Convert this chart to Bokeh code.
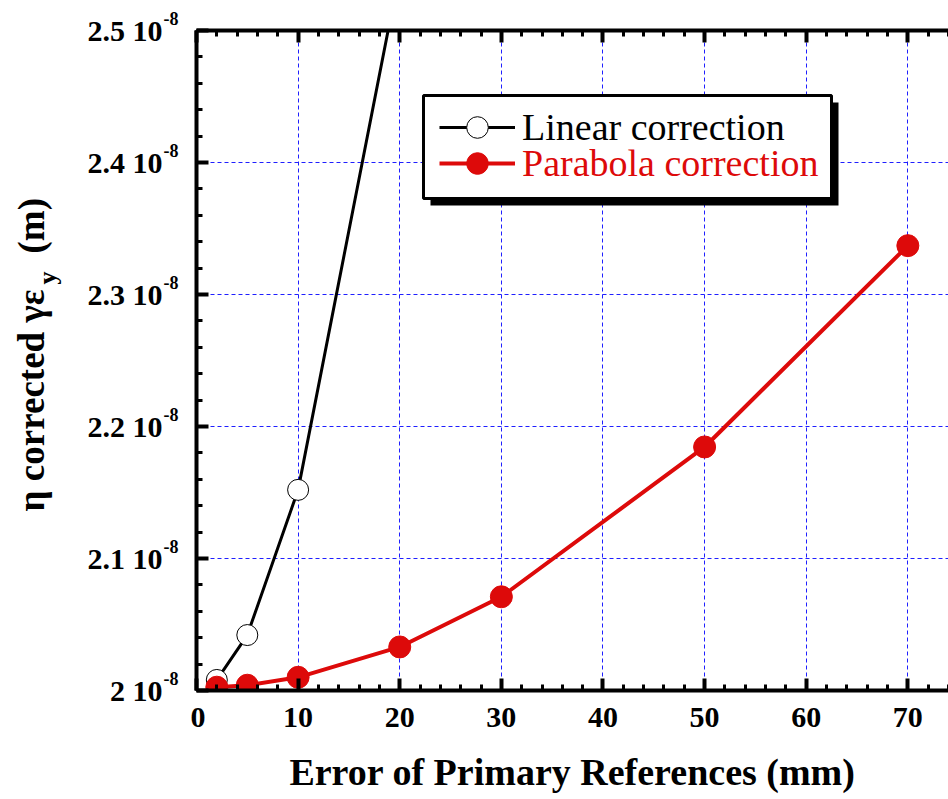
import math
from bokeh.plotting import figure
from bokeh.layouts import row
from bokeh.models import (LinearAxis, FixedTicker, CustomJSTickFormatter,
                          BoxAnnotation, Legend, LegendItem, Range1d)
from bokeh.core.properties import value
from bokeh.embed import file_html
from bokeh.resources import INLINE

# ---------------- data ----------------
error_linear_mm = [2, 5, 10, 20]
emit_linear_m = [2.008e-8, 2.042e-8, 2.152e-8, 2.545e-8]

error_parabola_mm = [2, 5, 10, 20, 30, 50, 70]
emit_parabola_m = [2.0025e-8, 2.004e-8, 2.010e-8, 2.033e-8, 2.071e-8, 2.1845e-8, 2.337e-8]

x_ticks = [0, 10, 20, 30, 40, 50, 60, 70]
y_ticks = [2.0e-8, 2.1e-8, 2.2e-8, 2.3e-8, 2.4e-8, 2.5e-8]
y_tick_labels = ["2 10", "2.1 10", "2.2 10", "2.3 10", "2.4 10", "2.5 10"]
y_tick_exponent = "-8"

x_label = "Error of Primary References (mm)"
y_label_main = "η corrected γε"
y_label_sub = "y"
y_label_unit = "(m)"
legend_labels = ["Linear correction", "Parabola correction"]

# ---------------- layout constants ----------------
RED = "#dd0a0a"
FONT = "Liberation Serif"
X0, X1 = 0, 74
Y0, Y1 = 2.0e-8, 2.5e-8
LW = 190                              # width of the left label strip
FL, FT, FW, FH = 196, 30, 752, 660    # main frame left/top/width/height (page px)
PAGE_H = 799
K = (Y1 - Y0) / FH                    # y data units per pixel


def px_x(px):
    return X0 + (px - FL) / FW * (X1 - X0)


def px_y(py):
    return Y0 + (FT + FH - py) * K


# ---------------- main figure ----------------
p = figure(frame_width=FW, frame_height=FH, min_border_left=FL - LW, min_border_right=0,
           min_border_top=FT, min_border_bottom=PAGE_H - FT - FH, title=None,
           x_range=Range1d(X0, X1), y_range=Range1d(Y0, Y1), frame_align=False,
           output_backend="svg", toolbar_location=None)
p.outline_line_color = None
p.background_fill_color = "white"
p.border_fill_color = "white"

xt = FixedTicker(ticks=x_ticks, minor_ticks=list(range(0, 75, 2)))
yt = FixedTicker(ticks=y_ticks, minor_ticks=[2.0e-8 + i * 0.02e-8 for i in range(26)])

bottom_axis = p.xaxis[0]
left_axis = p.yaxis[0]
bottom_axis.ticker = xt
left_axis.ticker = yt
left_axis.formatter = CustomJSTickFormatter(code="return '';")
left_axis.major_label_standoff = 0

top_axis = LinearAxis(ticker=xt, formatter=CustomJSTickFormatter(code="return '';"),
                      major_label_standoff=0)
p.add_layout(top_axis, "above")

for ax in [bottom_axis, left_axis, top_axis]:
    ax.axis_line_width = 4
    ax.axis_line_color = "black"
    ax.major_tick_in = 12
    ax.major_tick_out = 0
    ax.minor_tick_in = 6
    ax.minor_tick_out = 0
    ax.major_tick_line_width = 4
    ax.minor_tick_line_width = 3
    ax.major_tick_line_color = "black"
    ax.minor_tick_line_color = "black"
    ax.major_label_text_font = FONT
    ax.major_label_text_font_style = "bold"
    ax.major_label_text_color = "black"

bottom_axis.major_label_text_font_size = "30px"
left_axis.major_label_text_font_size = "0px"
top_axis.major_label_text_font_size = "0px"
bottom_axis.major_label_standoff = 17
bottom_axis.axis_label = x_label
bottom_axis.axis_label_text_font = FONT
bottom_axis.axis_label_text_font_style = "bold"
bottom_axis.axis_label_text_font_size = "38px"
bottom_axis.axis_label_text_color = "black"
bottom_axis.axis_label_standoff = 21

# grids
p.xgrid.ticker = xt
p.ygrid.ticker = yt
for g in [p.xgrid[0], p.ygrid[0]]:
    g.grid_line_color = "#1f1fff"
    g.grid_line_dash = "4 3"
    g.grid_line_width = 1

# ---------------- data series ----------------
lin_line = p.line(error_linear_mm, emit_linear_m, line_color="black", line_width=3)
lin_pts = p.scatter(error_linear_mm, emit_linear_m, size=21, fill_color="white",
                    line_color="black", line_width=1)
par_line = p.line(error_parabola_mm, emit_parabola_m, line_color=RED, line_width=4)
par_pts = p.scatter(error_parabola_mm, emit_parabola_m, size=22, fill_color=RED,
                    line_color=RED, line_width=1)

# ---------------- legend ----------------
shadow = BoxAnnotation(left=px_x(430), right=px_x(838), top=px_y(102), bottom=px_y(205),
                       fill_color="black", fill_alpha=1, line_color=None)
box = BoxAnnotation(left=px_x(423), right=px_x(831), top=px_y(95), bottom=px_y(198),
                    fill_color="white", fill_alpha=1, line_color="black", line_width=3,
                    line_alpha=1)
p.add_layout(shadow)
p.add_layout(box)

GH = 54
leg_common = dict(glyph_width=76, glyph_height=GH, label_height=GH, padding=0, margin=0,
                  label_standoff=7, border_line_color=None, background_fill_alpha=0,
                  label_text_font=FONT, label_text_font_size="38px", spacing=0)
leg1 = Legend(items=[LegendItem(label=legend_labels[0], renderers=[lin_line, lin_pts])],
              location=(439 - FL, FT + FH - (127 + GH / 2)), label_text_color="black",
              **leg_common)
leg2 = Legend(items=[LegendItem(label=legend_labels[1], renderers=[par_line, par_pts])],
              location=(439 - FL, FT + FH - (163 + GH / 2)), label_text_color=RED,
              **leg_common)
p.add_layout(leg1)
p.add_layout(leg2)

# ---------------- left strip: y tick labels and y axis title ----------------
lf = figure(frame_width=LW, frame_height=PAGE_H, min_border=0, title=None,
            x_range=Range1d(0, LW), y_range=Range1d(px_y(PAGE_H), px_y(0)),
            x_axis_location=None, y_axis_location=None, frame_align=False,
            output_backend="svg", toolbar_location=None)
lf.outline_line_color = None
lf.xgrid.visible = False
lf.ygrid.visible = False
lf.background_fill_color = "white"
lf.border_fill_color = "white"

bold = dict(text_font=value(FONT), text_font_style="bold", text_color="black")
lf.text(x=[162] * len(y_ticks), y=y_ticks, text=y_tick_labels,
        text_align="right", text_baseline="middle", text_font_size="30px", **bold)
lf.text(x=[163] * len(y_ticks), y=[t + 12 * K for t in y_ticks],
        text=[y_tick_exponent] * len(y_ticks),
        text_align="left", text_baseline="middle", text_font_size="18px", **bold)

rot = dict(angle=math.pi / 2, text_baseline="alphabetic", **bold)
lf.text(x=[31], y=[px_y(289)], text=[y_label_main], text_align="right",
        text_font_size="37px", **rot)
lf.text(x=[47], y=[px_y(284)], text=[y_label_sub], text_align="left",
        text_font_size="26px", **rot)
lf.text(x=[31], y=[px_y(253)], text=[y_label_unit], text_align="left",
        text_font_size="37px", **rot)

layout = row(lf, p, spacing=0)
open("out.html", "w").write(file_html(layout, INLINE))
